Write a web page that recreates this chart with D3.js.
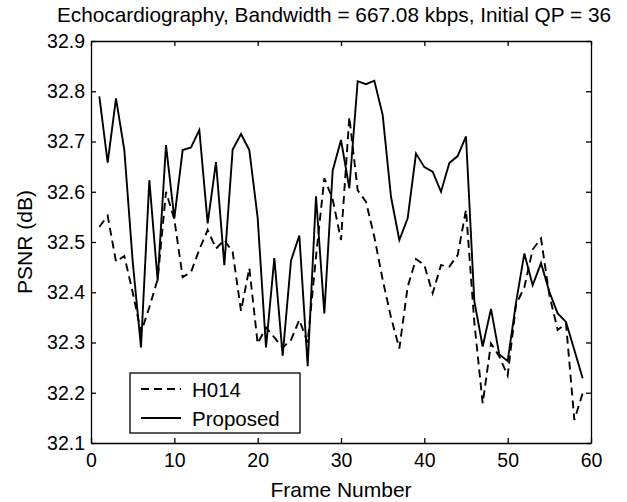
<!DOCTYPE html>
<html>
<head>
<meta charset="utf-8">
<script src="https://cdn.jsdelivr.net/npm/d3@7"></script>
<style>
  html, body { margin: 0; padding: 0; background: #fff; }
  svg { display: block; font-family: "Liberation Sans", Arial, Helvetica, sans-serif; }
</style>
</head>
<body>
<svg id="chart" width="627" height="502"></svg>
<script>
const frames = [1,2,3,4,5,6,7,8,9,10,11,12,13,14,15,16,17,18,19,20,21,22,23,24,25,26,27,28,29,30,31,32,33,34,35,36,37,38,39,40,41,42,43,44,45,46,47,48,49,50,51,52,53,54,55,56,57,58,59];
const h014 = [32.530,32.552,32.461,32.472,32.400,32.320,32.370,32.426,32.600,32.545,32.430,32.440,32.485,32.524,32.487,32.504,32.480,32.363,32.448,32.298,32.330,32.310,32.290,32.305,32.345,32.300,32.471,32.627,32.585,32.504,32.749,32.603,32.580,32.510,32.425,32.350,32.288,32.411,32.466,32.454,32.398,32.454,32.451,32.474,32.564,32.340,32.179,32.298,32.272,32.234,32.375,32.410,32.485,32.507,32.395,32.325,32.338,32.146,32.199];
const proposed = [32.790,32.658,32.786,32.683,32.462,32.290,32.623,32.423,32.693,32.547,32.683,32.688,32.723,32.537,32.659,32.454,32.684,32.715,32.683,32.548,32.290,32.468,32.274,32.463,32.513,32.253,32.591,32.358,32.642,32.703,32.607,32.820,32.814,32.821,32.753,32.590,32.504,32.547,32.676,32.649,32.640,32.600,32.657,32.671,32.710,32.382,32.292,32.367,32.276,32.263,32.379,32.477,32.414,32.458,32.401,32.358,32.341,32.285,32.229];
const xTicks = [0,10,20,30,40,50,60];
const yTicks = [32.1,32.2,32.3,32.4,32.5,32.6,32.7,32.8,32.9];
const seriesNames = ["H014","Proposed"];
const titleText = "Echocardiography, Bandwidth = 667.08 kbps, Initial QP = 36";
const xLabel = "Frame Number";
const yLabel = "PSNR (dB)";

const L = 91, R = 591, T = 41, B = 443;
const svg = d3.select("#chart");
const x = d3.scaleLinear().domain([0,60]).range([L,R]);
const y = d3.scaleLinear().domain([32.1,32.9]).range([B,T]);

const fs = 19.5;
function styleAxis(g, labels) {
  g.selectAll("path.domain").attr("stroke","#000").attr("stroke-width",1.3);
  g.selectAll(".tick line").attr("stroke","#000").attr("stroke-width",1.3);
  g.selectAll(".tick text").attr("fill","#000").style("font-size", fs+"px");
  if (!labels) g.selectAll(".tick text").remove();
}

svg.append("g").attr("transform",`translate(0,${B})`)
  .call(d3.axisBottom(x).tickValues(xTicks).tickSizeInner(-5).tickSizeOuter(0).tickPadding(10).tickFormat(d3.format("d")))
  .call(g => styleAxis(g,true));
svg.append("g").attr("transform",`translate(0,${T})`)
  .call(d3.axisTop(x).tickValues(xTicks).tickSizeInner(-5).tickSizeOuter(0))
  .call(g => styleAxis(g,false));
svg.append("g").attr("transform",`translate(${L},0)`)
  .call(d3.axisLeft(y).tickValues(yTicks).tickSizeInner(-5).tickSizeOuter(0).tickPadding(6).tickFormat(d3.format(".1f")))
  .call(g => styleAxis(g,true));
svg.append("g").attr("transform",`translate(${R},0)`)
  .call(d3.axisRight(y).tickValues(yTicks).tickSizeInner(-5).tickSizeOuter(0))
  .call(g => styleAxis(g,false));

const line = d3.line().x((d,i)=>x(frames[i])).y(d=>y(d));
svg.append("path").datum(h014).attr("d",line).attr("fill","none").attr("stroke","#000")
  .attr("stroke-width",1.9).attr("stroke-dasharray","8,5").attr("stroke-linejoin","miter");
svg.append("path").datum(proposed).attr("d",line).attr("fill","none").attr("stroke","#000")
  .attr("stroke-width",1.9).attr("stroke-linejoin","miter");

// title and labels
svg.append("text").attr("x",334).attr("y",22).attr("text-anchor","middle")
  .style("font-size","20.8px").text(titleText);
svg.append("text").attr("x",341).attr("y",497).attr("text-anchor","middle")
  .style("font-size","21px").text(xLabel);
svg.append("text").attr("transform",`translate(32,${(T+B)/2}) rotate(-90)`).attr("text-anchor","middle")
  .style("font-size","21px").text(yLabel);

// legend
const lg = svg.append("g");
lg.append("rect").attr("x",130).attr("y",373).attr("width",170).attr("height",60)
  .attr("fill","#fff").attr("stroke","#000").attr("stroke-width",1.3);
const rows = [{name:seriesNames[0],dash:"8,5",yy:389},{name:seriesNames[1],dash:null,yy:418}];
rows.forEach(r => {
  lg.append("line").attr("x1",141).attr("x2",181).attr("y1",r.yy).attr("y2",r.yy)
    .attr("stroke","#000").attr("stroke-width",1.9).attr("stroke-dasharray",r.dash);
  lg.append("text").attr("x",192).attr("y",r.yy+7.5).style("font-size","20.5px").text(r.name);
});
</script>
</body>
</html>
